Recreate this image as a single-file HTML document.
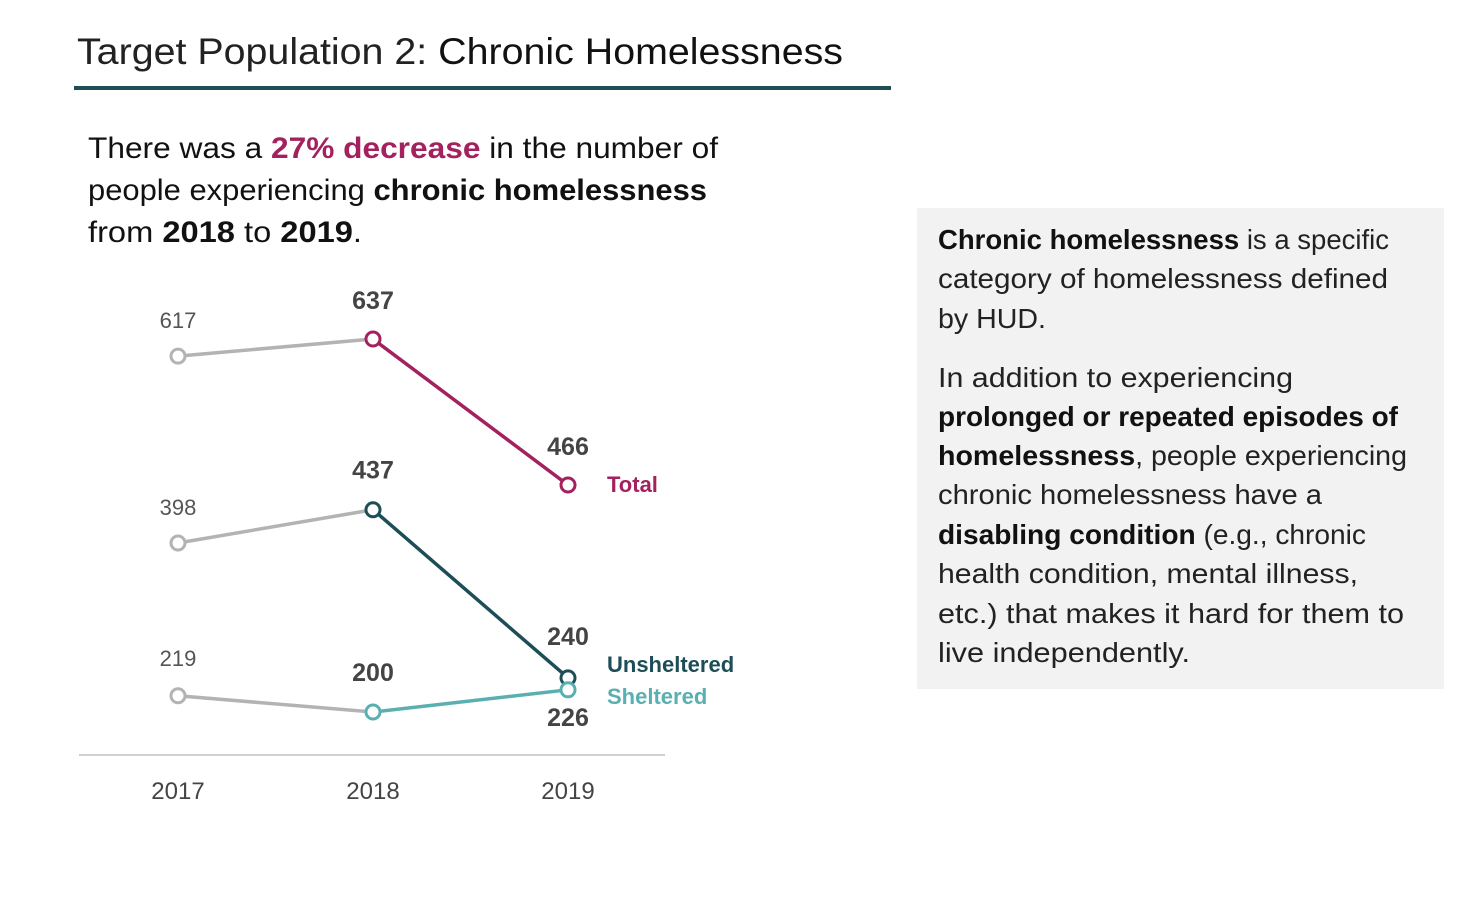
<!DOCTYPE html>
<html><head><meta charset="utf-8"><style>
html,body{margin:0;padding:0;background:#fff;}
svg{display:block;font-family:"Liberation Sans",sans-serif;}
</style></head><body>
<svg id="page" width="1467" height="897" viewBox="0 0 1467 897" xmlns="http://www.w3.org/2000/svg">
<text x="77" y="64" font-size="37" fill="#111" textLength="766" lengthAdjust="spacingAndGlyphs"><tspan font-weight="300" fill="#222">Target Population 2: </tspan><tspan>Chronic Homelessness</tspan></text>
<rect x="74" y="86" width="817" height="4" fill="#1f4e54"/>
<g font-size="30" fill="#111">
<text x="88" y="158" textLength="630" lengthAdjust="spacingAndGlyphs">There was a <tspan font-weight="bold" fill="#a3215f">27% decrease</tspan> in the number of</text>
<text x="88" y="200" textLength="619" lengthAdjust="spacingAndGlyphs">people experiencing <tspan font-weight="bold">chronic homelessness</tspan></text>
<text x="88" y="242" textLength="274" lengthAdjust="spacingAndGlyphs">from <tspan font-weight="bold">2018</tspan> to <tspan font-weight="bold">2019</tspan>.</text>
</g>
<g id="chart"></g>
<rect x="917" y="208" width="527" height="481" fill="#f2f2f2"/>
<g font-size="28" fill="#222">
<text x="938" y="249" textLength="451" lengthAdjust="spacingAndGlyphs"><tspan font-weight="bold" fill="#111">Chronic homelessness</tspan> is a specific</text>
<text x="938" y="288" textLength="450" lengthAdjust="spacingAndGlyphs">category of homelessness defined</text>
<text x="938" y="328" textLength="108" lengthAdjust="spacingAndGlyphs">by HUD.</text>
<text x="938" y="387" textLength="355" lengthAdjust="spacingAndGlyphs">In addition to experiencing</text>
<text x="938" y="426" textLength="460" lengthAdjust="spacingAndGlyphs" font-weight="bold" fill="#111">prolonged or repeated episodes of</text>
<text x="938" y="465" textLength="469" lengthAdjust="spacingAndGlyphs"><tspan font-weight="bold" fill="#111">homelessness</tspan>, people experiencing</text>
<text x="938" y="504" textLength="384" lengthAdjust="spacingAndGlyphs">chronic homelessness have a</text>
<text x="938" y="544" textLength="428" lengthAdjust="spacingAndGlyphs"><tspan font-weight="bold" fill="#111">disabling condition</tspan> (e.g., chronic</text>
<text x="938" y="583" textLength="420" lengthAdjust="spacingAndGlyphs">health condition, mental illness,</text>
<text x="938" y="623" textLength="466" lengthAdjust="spacingAndGlyphs">etc.) that makes it hard for them to</text>
<text x="938" y="662" textLength="252" lengthAdjust="spacingAndGlyphs">live independently.</text>
</g>
</svg>
<script>
const years = ["2017","2018","2019"];
const totalValues = [617, 637, 466];
const unshelteredValues = [398, 437, 240];
const shelteredValues = [219, 200, 226];
const seriesNames = ["Total","Unsheltered","Sheltered"];

const NS = "http://www.w3.org/2000/svg";
const g = document.getElementById("chart");
const xPos = i => 178 + i * 195;
const yPos = v => 712 - (v - 200) * 0.8535;
function mk(tag, attrs){const e=document.createElementNS(NS,tag);for(const k in attrs)e.setAttribute(k,attrs[k]);g.appendChild(e);return e;}

const axis = mk("line",{x1:79,x2:665,y1:755,y2:755,stroke:"#d0d0d0","stroke-width":2});


years.forEach((y,i)=>{
  const t = mk("text",{x:xPos(i),y:799,"font-size":24,fill:"#444","text-anchor":"middle"});
  t.textContent = y;
  
  
});

const series = [
  {vals: totalValues, color:"#a3215f", name:seriesNames[0], labDy:[-28,-30,-30], nameDy:6},
  {vals: unshelteredValues, color:"#1d4e57", name:seriesNames[1], labDy:[-28,-31,-33], nameDy:-7},
  {vals: shelteredValues, color:"#5aafb0", name:seriesNames[2], labDy:[-30,-31,36], nameDy:13}
];
series.forEach(s=>{
  const x0=xPos(0),y0=yPos(s.vals[0]),x1=xPos(1),y1=yPos(s.vals[1]),x2=xPos(2),y2=yPos(s.vals[2]);
  const gl = mk("line",{x1:x0,y1:y0,x2:x1,y2:y1,stroke:"#b3b3b3","stroke-width":3.5});
  
  
  const cl = mk("line",{x1:x1,y1:y1,x2:x2,y2:y2,stroke:s.color,"stroke-width":3.5});
  
  
  s.vals.forEach((v,i)=>{
    const c = mk("circle",{cx:xPos(i),cy:yPos(v),r:7,fill:"#fff",stroke:i===0?"#b3b3b3":s.color,"stroke-width":3});
    
    
    const t = mk("text",{x:xPos(i),y:yPos(v)+s.labDy[i],"text-anchor":"middle","font-size":i===0?22:25,"font-weight":i===0?"normal":"bold",fill:i===0?"#555":"#444"});
    t.textContent = v;
    
    
  });
  const n = mk("text",{x:607,y:y2+s.nameDy+1,"font-size":22,"font-weight":"bold",fill:s.color});
  n.textContent = s.name;
  
  
});
</script>
</body></html>
